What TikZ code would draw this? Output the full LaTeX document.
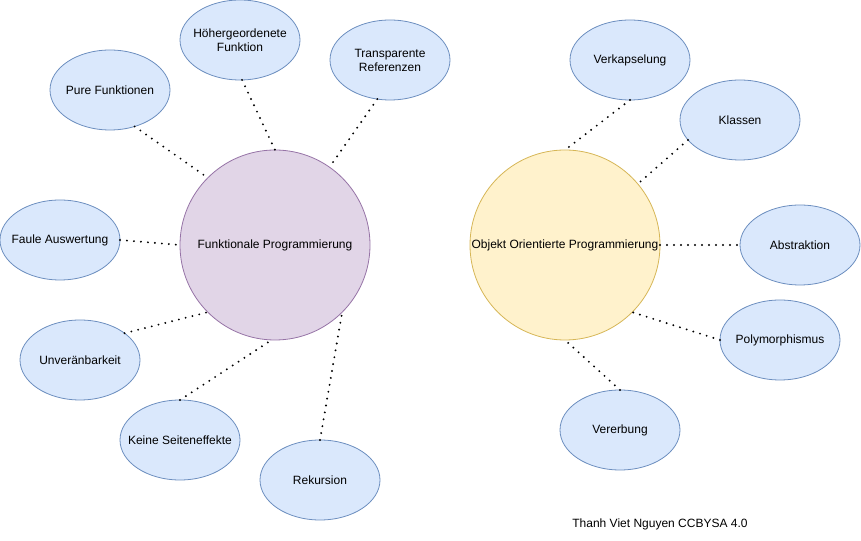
\documentclass[tikz,border=0pt]{standalone}
\usepackage{fontspec}
\setmainfont{Liberation Sans}
\usetikzlibrary{shapes.geometric}
\definecolor{cblue}{HTML}{DAE8FC}
\definecolor{cblueline}{HTML}{6C8EBF}
\definecolor{cpurple}{HTML}{E1D5E7}
\definecolor{cpurpleline}{HTML}{9673A6}
\definecolor{cyellow}{HTML}{FFF2CC}
\definecolor{cyellowline}{HTML}{D6B656}
\tikzset{
  every picture/.style={font=\fontsize{9pt}{10.5pt}\selectfont},
  topic/.style={ellipse, draw=cblueline, fill=cblue, line width=0.6pt, minimum width=90pt, minimum height=60pt, inner sep=0pt, outer sep=0pt},
  hub/.style={circle, draw=#1line, fill=#1, line width=0.6pt, minimum size=142.5pt, inner sep=0pt, outer sep=0pt},
  link/.style={line width=1.6pt, line cap=round, dash pattern=on 0pt off 5.25pt},
  txt/.style={align=center},
}
\begin{document}
\begin{tikzpicture}[x=0.75pt, y=-0.75pt]
  \useasboundingbox (0,0) rectangle (861,541);
  % two main circles
  \node[hub=cpurple, label={[txt]center:Funktionale Programmierung}] (func) at (275,245) {};
  \node[hub=cyellow, label={[txt]center:Objekt Orientierte Programmierung}] (oop) at (565,245) {};
  % functional side
  \node[topic, label={[txt]center:Höhergeordenete\\Funktion}] (hoeher) at (240,40) {};
  \node[topic, label={[txt]center:Transparente\\Referenzen}] (transp) at (390,60) {};
  \node[topic, label={[txt]center:Pure Funktionen}] (pure) at (110,90) {};
  \node[topic, label={[txt]center:Faule Auswertung}] (faule) at (60,240) {};
  \node[topic, label={[txt]center:Unveränbarkeit}] (unver) at (80,360) {};
  \node[topic, label={[txt]center:Keine Seiteneffekte}] (keine) at (180,440) {};
  \node[topic, label={[txt]center:Rekursion}] (rekur) at (320,480) {};
  % object oriented side
  \node[topic, label={[txt]center:Verkapselung}] (verk) at (630,60) {};
  \node[topic, label={[txt]center:Klassen}] (klassen) at (740,120) {};
  \node[topic, label={[txt]center:Abstraktion}] (abstr) at (800,245) {};
  \node[topic, label={[txt]center:Polymorphismus}] (poly) at (780,340) {};
  \node[topic, label={[txt]center:Vererbung}] (vererb) at (620,430) {};
  \draw[link] (pure.-56) -- (func.135);
  \draw[link] (hoeher.-87) -- (func.90);
  \draw[link] (transp.-108) -- (func.55);
  \draw[link] (faule.east) -- (func.west);
  \draw[link] (unver.31) -- (func.-135);
  \draw[link] (keine.north) -- (func.-92);
  \draw[link] (rekur.north) -- (func.-45);
  \draw[link] (verk.south) -- (oop.north);
  \draw[link] (klassen.-159) -- (oop.40);
  \draw[link] (oop.east) -- (abstr.west);
  \draw[link] (poly.west) -- (oop.-45);
  \draw[link] (vererb.north) -- (oop.south);
  \node (credit) at (660,524) {Thanh Viet Nguyen CCBYSA 4.0};
\end{tikzpicture}
\end{document}
